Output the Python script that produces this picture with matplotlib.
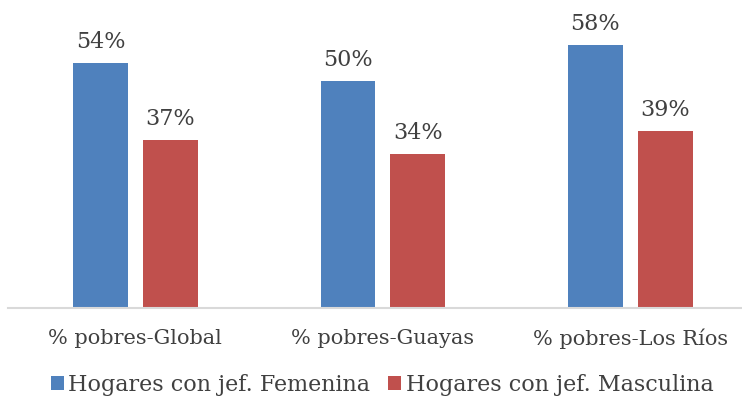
import numpy as np
import matplotlib.pyplot as plt

categorias = ["% pobres-Global", "% pobres-Guayas", "% pobres-Los Ríos"]
femenina = [0.54, 0.50, 0.58]
masculina = [0.37, 0.34, 0.39]
series = ["Hogares con jef. Femenina", "Hogares con jef. Masculina"]

azul = "#4F81BD"
rojo = "#C0504D"
gris_texto = "#404040"

plt.rcParams['font.family'] = ['DejaVu Serif']

fig = plt.figure(figsize=(7.42, 4.04), dpi=100)
ax = fig.add_axes([8 / 742, 96 / 404, 734 / 742, 306 / 404])

x = np.arange(len(categorias))
w = 0.222
sep = 0.06
off = (w + sep) / 2
b1 = ax.bar(x - off, femenina, w, color=azul, label=series[0])
b2 = ax.bar(x + off, masculina, w, color=rojo, label=series[1])

for bars, vals in ((b1, femenina), (b2, masculina)):
    for b, v in zip(bars, vals):
        ax.text(b.get_x() + b.get_width() / 2, v + 0.022, f"{round(v * 100)}%",
                ha="center", va="bottom", fontsize=16, color=gris_texto)

ax.set_xlim(-0.515, 2.4515)
ax.set_ylim(0, 0.675)
ax.set_xticks(x)
ax.set_xticklabels(categorias, fontsize=15, color=gris_texto)
ax.tick_params(axis="x", length=0, pad=15)
ax.set_yticks([])
for s in ("top", "right", "left"):
    ax.spines[s].set_visible(False)
ax.spines["bottom"].set_color("#D9D9D9")
ax.spines["bottom"].set_linewidth(1.5)

fig.legend(loc="center", bbox_to_anchor=(0.515, 0.047), ncol=2, frameon=False,
           fontsize=16, handlelength=0.6, handleheight=0.6, handletextpad=0.2,
           columnspacing=0.8, labelcolor=gris_texto)

fig.savefig("out.png", dpi=100)
